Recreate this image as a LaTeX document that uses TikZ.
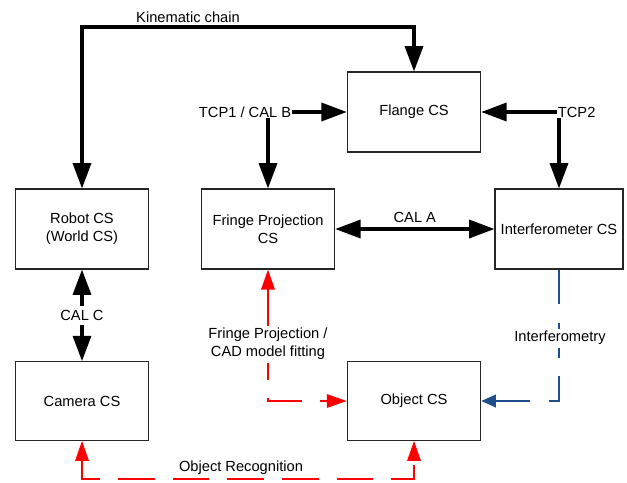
\documentclass[tikz,border=0pt]{standalone}
\usepackage{fontspec}
\setmainfont{Liberation Sans}
\usepackage{xcolor}
\usetikzlibrary{arrows.meta,positioning,calc}
\definecolor{fitred}{RGB}{255,0,0}
\definecolor{ifblue}{RGB}{31,78,140}
\definecolor{boxline}{gray}{0.15}

\begin{document}
\begin{tikzpicture}[x=0.75pt,y=-0.75pt,font=\fontsize{11}{13.5}\selectfont,
  csbox/.style={draw=boxline,line width=0.8pt,minimum width=100pt,minimum height=60pt,align=center,inner sep=2pt},
  blkone/.style={line width=2.5pt,-{Triangle[length=19pt,width=13.5pt]}},
  blktwo/.style={line width=2.5pt,{Triangle[length=19pt,width=13.5pt]}-{Triangle[length=19pt,width=13.5pt]}},
  redtwo/.style={draw=fitred,line width=1.6pt,dash pattern=on 27.5pt off 13.5pt,{Triangle[length=15pt,width=10pt]}-{Triangle[length=15pt,width=10pt]}},
  blueone/.style={draw=ifblue,line width=1.2pt,dash pattern=on 26pt off 14pt,-{Triangle[length=11pt,width=9.5pt,fill=ifblue]}}]
\useasboundingbox (0,0) rectangle (627,482);
% boxes
\node[csbox] (flange) at (414,112) {Flange CS};
\node[csbox] (robot) at (82,229) {Robot CS\\(World CS)};
\node[csbox] (fringe) at (268,229) {Fringe Projection\\CS};
\node[csbox,minimum width=96pt] (interf) at (559,229) {Interferometer CS};
\node[csbox,minimum height=59pt] (camera) at (82,401) {Camera CS};
\node[csbox,minimum height=59pt] (object) at (414,401) {Object CS};
% black links
\coordinate (kc) at (188,27);
\node (kclbl) [above] at (kc) {Kinematic chain};
\draw[blktwo] (robot.north) |- (kc) -| (flange.north);
\node (tcp1) [anchor=east,inner sep=0.5pt] at (292,112) {TCP1 / CAL B};
\node (tcp2) [anchor=west,inner sep=0.5pt] at (557,112) {TCP2};
\draw[blkone] (tcp1.east) -- (flange.west);
\draw[blkone] (tcp1.south -| fringe.north) -- (fringe.north);
\draw[blkone] (tcp2.west) -- (flange.east);
\draw[blkone] (tcp2.south -| interf.north) -- (interf.north);
\draw[blktwo] (fringe.east) -- (interf.west) node[midway,above] (calalbl) {CAL A};
\draw[blktwo] (robot.south) -- (camera.north) node[midway,fill=white] (calclbl) {CAL C};
% measurement links
\draw[redtwo] (fringe.south) |- (object.west);
\node (fplbl) [fill=white,align=center,inner sep=2pt] at (268,344) {Fringe Projection /\\CAD model fitting};
\draw[blueone] (interf.south) |- (object.east);
\node (iflbl) [fill=white,inner sep=2pt] at (560,338) {Interferometry};
\coordinate (rec) at (241,479);
\node (reclbl) [above] at (rec) {Object Recognition};
\draw[redtwo] (camera.south) |- (rec) -| (object.south);
\end{tikzpicture}
\end{document}
